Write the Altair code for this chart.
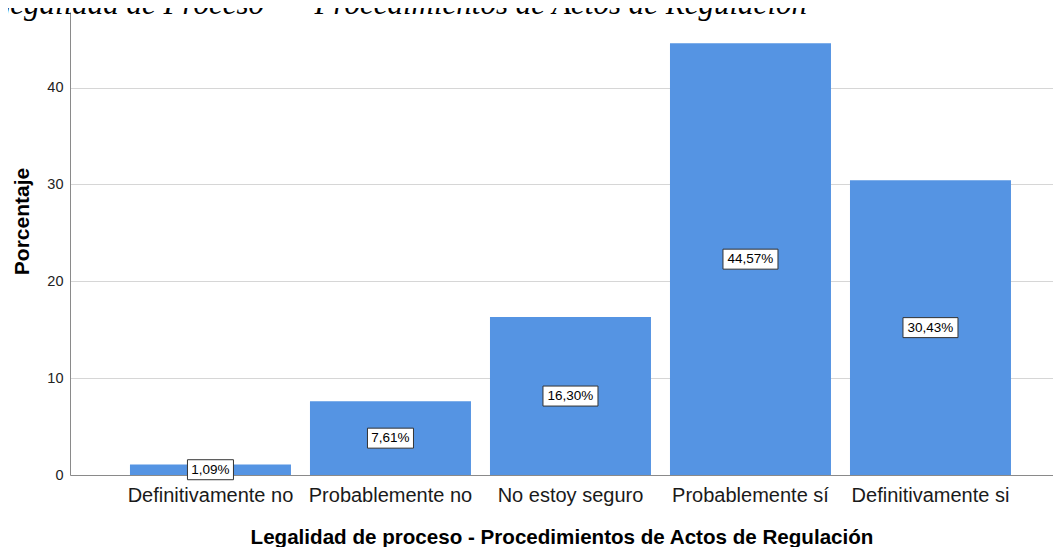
import altair as alt
import pandas as pd

categorias = ["Definitivamente no", "Probablemente no", "No estoy seguro",
              "Probablemente sí", "Definitivamente si"]
porcentajes = [1.09, 7.61, 16.30, 44.57, 30.43]
y_ticks = [0, 10, 20, 30, 40]
titulo_a = "Legalidad de Proceso"
titulo_b = "– Procedimientos de Actos de Regulación"
x_titulo = "Legalidad de proceso - Procedimientos de Actos de Regulación"
y_titulo = "Porcentaje"

df = pd.DataFrame({"cat": categorias, "v": porcentajes})
df["lab"] = [f"{v:.2f}%".replace(".", ",") for v in porcentajes]
# label box: width depends on label length, height 20px
box_w = [46 if len(s) <= 5 else 55 for s in df["lab"]]
df["sz"] = [w * w for w in box_w]
df["shp"] = [f"M-1,-{20 / w:.4f}L1,-{20 / w:.4f}L1,{20 / w:.4f}L-1,{20 / w:.4f}Z" for w in box_w]

xs = alt.X("cat:N", sort=categorias,
           scale=alt.Scale(paddingInner=0.1056, paddingOuter=0.2833, align=0.588),
           axis=alt.Axis(title=x_titulo, labelAngle=0, ticks=False, tickSize=0,
                         labelFont="Liberation Sans", labelFontSize=20, labelColor="#1a1a1a",
                         labelPadding=10, domainColor="#8a8a8a", domainWidth=1,
                         titleFont="Liberation Sans", titleFontSize=20.6, titleFontWeight="bold",
                         titleColor="#000000", titlePadding=22, zindex=0, grid=False))
ys = alt.Y("v:Q", scale=alt.Scale(domain=[0, 47.8], nice=False, zero=True),
           axis=alt.Axis(title=y_titulo, values=y_ticks, ticks=False, tickSize=0,
                         labelFont="Liberation Sans", labelFontSize=14.5, labelColor="#222222",
                         labelPadding=7, domainColor="#8a8a8a", domainWidth=1,
                         grid=True, gridColor="#d6d6d6", gridWidth=1,
                         titleFont="Liberation Sans", titleFontSize=21, titleFontWeight="bold",
                         titleColor="#000000", titleAngle=270, titleX=-48, titleY=209,
                         titleAlign="center", titleBaseline="middle", zindex=0))

base = alt.Chart(df)

bars = base.mark_bar(color="#5594e3").encode(x=xs, y=ys)

boxes = base.transform_calculate(mid="datum.v / 2").mark_point(
    filled=True, fill="white", stroke="#333333", strokeWidth=1, opacity=1
).encode(
    x=alt.X("cat:N", sort=categorias),
    y=alt.Y("mid:Q"),
    shape=alt.Shape("shp:N", scale=None),
    size=alt.Size("sz:Q", scale=None),
)

texts = base.transform_calculate(mid="datum.v / 2").mark_text(
    font="Liberation Sans", fontSize=13.5, color="#000000", baseline="middle", align="center"
).encode(
    x=alt.X("cat:N", sort=categorias),
    y=alt.Y("mid:Q"),
    text="lab:N",
)

t1 = alt.Chart(pd.DataFrame({"t": [titulo_a]})).mark_text(
    font="Liberation Serif", fontStyle="italic", fontSize=31, align="right",
    baseline="alphabetic", color="#000000"
).encode(x=alt.value(194), y=alt.value(1.5), text="t:N")

t2 = alt.Chart(pd.DataFrame({"t": [titulo_b]})).mark_text(
    font="Liberation Serif", fontStyle="italic", fontSize=31, align="right",
    baseline="alphabetic", color="#000000"
).encode(x=alt.value(737), y=alt.value(1.5), text="t:N")

chart = alt.layer(bars, boxes, texts, t1, t2).properties(
    width=983, height=463,
    autosize=alt.AutoSizeParams(type="none"),
    padding={"left": 62, "top": 4, "right": 0, "bottom": 72},
    background="white",
).configure_view(stroke=None)

chart.save("out.html", embed_options={"renderer": "svg", "actions": False})
